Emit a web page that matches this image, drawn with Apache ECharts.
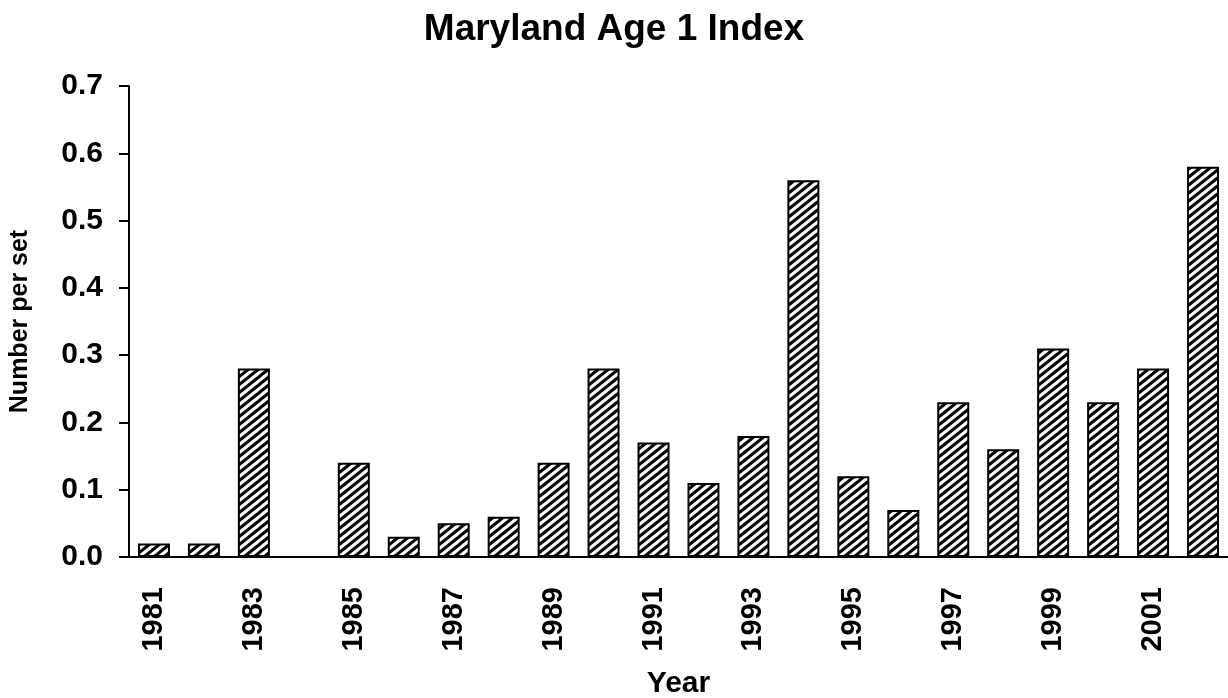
<!DOCTYPE html>
<html>
<head>
<meta charset="utf-8">
<title>Maryland Age 1 Index</title>
<script src="https://cdn.jsdelivr.net/npm/echarts@6/dist/echarts.min.js"></script>
<style>
    html, body { margin: 0; padding: 0; background: #fff; }
    #chart { width: 1228px; height: 698px; }
</style>
</head>
<body>
<div id="chart"></div>
<script>
const years = ["1981", "1982", "1983", "1984", "1985", "1986", "1987", "1988", "1989", "1990", "1991",
    "1992", "1993", "1994", "1995", "1996", "1997", "1998", "1999", "2000", "2001", "2002"];
const numberPerSet = [0.02, 0.02, 0.28, 0, 0.14, 0.03, 0.05, 0.06, 0.14, 0.28, 0.17,
    0.11, 0.18, 0.56, 0.12, 0.07, 0.23, 0.16, 0.31, 0.23, 0.28, 0.58];

const font = "'Liberation Sans', Arial, sans-serif";

// diagonal hatch tile, "/" direction
const makeHatch = () => {
    const w = 10, h = 8;
    const c = document.createElement("canvas");
    c.width = w;
    c.height = h;
    const ctx = c.getContext("2d");
    ctx.fillStyle = "#fff";
    ctx.fillRect(0, 0, w, h);
    ctx.strokeStyle = "#000";
    ctx.lineWidth = 3;
    ctx.beginPath();
    for (let k = -1; k <= 1; k++) {
        ctx.moveTo(k * w - w, 2 * h);
        ctx.lineTo(k * w + 2 * w, -h);
    }
    ctx.stroke();
    return c;
};

const myChart = echarts.init(document.getElementById("chart"));
myChart.setOption({
    animation: false,
    title: {
        text: "Maryland Age 1 Index",
        left: "center",
        top: 6,
        textStyle: { fontFamily: font, fontWeight: "bold", fontSize: 37, color: "#000" }
    },
    grid: { left: 129, right: 0, top: 86, bottom: 141, containLabel: false, outerBoundsMode: "none" },
    xAxis: {
        type: "category",
        data: years,
        name: "Year",
        nameLocation: "middle",
        nameGap: 112,
        nameTextStyle: { fontFamily: font, fontWeight: "bold", fontSize: 30, color: "#000" },
        axisLine: { lineStyle: { color: "#000", width: 2 } },
        axisTick: { interval: 0, length: 11, lineStyle: { color: "#000", width: 2 } },
        axisLabel: {
            interval: 1,
            rotate: 90,
            margin: 30,
            fontFamily: font,
            fontWeight: "bold",
            fontSize: 29,
            color: "#000"
        }
    },
    yAxis: {
        type: "value",
        min: 0,
        max: 0.7,
        interval: 0.1,
        name: "Number per set",
        nameLocation: "middle",
        nameGap: 96,
        nameTextStyle: { fontFamily: font, fontWeight: "bold", fontSize: 25, color: "#000" },
        axisLine: { show: true, lineStyle: { color: "#000", width: 2 } },
        axisTick: { show: true, length: 10, lineStyle: { color: "#000", width: 2 } },
        splitLine: { show: false },
        axisLabel: {
            margin: 26,
            fontFamily: font,
            fontWeight: "bold",
            fontSize: 30,
            color: "#000",
            formatter: (v) => v.toFixed(1)
        }
    },
    series: [{
        type: "bar",
        data: numberPerSet,
        barWidth: 32,
        itemStyle: {
            color: { image: makeHatch(), repeat: "repeat" },
            borderColor: "#000",
            borderWidth: 2
        }
    }]
});
</script>
</body>
</html>
